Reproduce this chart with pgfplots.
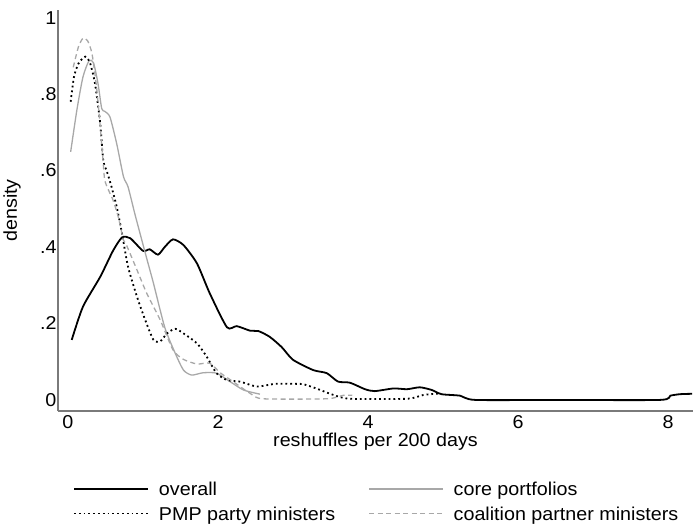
\documentclass[border=0pt]{standalone}
\usepackage{pgfplots}
\pgfplotsset{compat=1.18}
\usepackage{fontspec}
\setmainfont{Liberation Sans}[FakeStretch=1.06]
\definecolor{axisgray}{HTML}{7A7A7A}
\definecolor{lgray}{HTML}{A8A8A8}
\newcommand{\bigf}{\fontsize{18.6pt}{22pt}\selectfont}
\begin{document}
\begin{tikzpicture}[font=\bigf]
\useasboundingbox (-58pt,-117pt) rectangle (641pt,411pt);
\begin{axis}[
  scale only axis, width=635pt, height=401pt,
  xmin=-0.133, xmax=8.333, ymin=-0.029, ymax=1.02,
  font=\bigf,
  axis lines*=left,
  axis line style={draw=axisgray, line width=1.6pt, -},
  major tick length=0pt,
  xtick={0,2,4,6,8},
  ytick={0,0.2,0.4,0.6,0.8,1}, yticklabels={0,.2,.4,.6,.8,1},
  /pgf/number format/assume math mode=true,
  xticklabel style={font=\bigf, yshift=-2pt, inner sep=2pt},
  yticklabel style={font=\bigf, xshift=2pt},
  xlabel={reshuffles per 200 days},
  ylabel={density},
  every axis x label/.style={at={(axis description cs:0.5,-0.076)}, anchor=center, font=\bigf, inner sep=0pt},
  every axis y label/.style={at={(axis description cs:-0.0724,0.5)}, anchor=center, rotate=90, font=\bigf},
  legend columns=2, legend cell align=left,
  legend image code/.code={\draw[#1] (0pt,0pt) -- (74pt,0pt);},
  legend style={draw=none, fill=none, at={(axis description cs:0,0)}, anchor=north west,
    xshift=12pt, yshift=-69pt, row sep=11pt, font=\bigf,
    nodes={inner sep=0pt, text depth=0pt},
    /tikz/every odd column/.append style={column sep=10pt},
    /tikz/every even column/.append style={column sep=33pt}},
]
\addplot[black, line width=1.8pt, smooth, tension=0.4] coordinates {
(0.05,0.157)(0.2,0.244)(0.43,0.322)(0.6,0.39)(0.72,0.425)(0.83,0.423)
(1.0,0.39)(1.09,0.394)(1.2,0.38)(1.29,0.40)(1.4,0.42)(1.54,0.405)(1.72,0.357)(1.89,0.279)
(2.12,0.19)(2.25,0.193)(2.43,0.181)(2.54,0.18)(2.69,0.165)(2.85,0.138)(3.0,0.105)(3.27,0.078)
(3.45,0.07)(3.6,0.048)(3.76,0.045)(3.96,0.028)(4.09,0.023)(4.34,0.03)(4.52,0.028)(4.69,0.033)
(4.85,0.026)(4.98,0.015)(5.23,0.011)(5.43,0.0)(6.5,0)(7.89,0)(8.03,0.011)(8.16,0.015)(8.32,0.016)};
\addlegendentry{overall}
\addplot[lgray, line width=1.3pt, smooth, tension=0.4] coordinates {
(0.036,0.649)(0.12,0.76)(0.2,0.845)(0.28,0.887)(0.34,0.882)(0.40,0.828)(0.45,0.762)(0.49,0.755)
(0.56,0.74)(0.65,0.67)(0.74,0.584)(0.80,0.558)(0.89,0.488)(0.96,0.436)(1.05,0.37)(1.14,0.305)
(1.29,0.19)(1.43,0.122)(1.54,0.078)(1.65,0.065)(1.80,0.071)(1.98,0.07)(2.16,0.048)(2.34,0.026)(2.56,0.015)};
\addlegendentry{core portfolios}
\addplot[black, line width=1.8pt, dash pattern=on 1.8pt off 3pt, smooth, tension=0.4] coordinates {
(0.036,0.78)(0.08,0.845)(0.14,0.88)(0.23,0.898)(0.29,0.884)(0.36,0.828)(0.43,0.723)(0.47,0.627)
(0.52,0.597)(0.58,0.558)(0.65,0.505)(0.72,0.436)(0.80,0.349)(0.92,0.27)(1.03,0.209)(1.14,0.157)
(1.23,0.153)(1.32,0.174)(1.43,0.186)(1.54,0.174)(1.72,0.148)(1.85,0.113)(1.98,0.07)(2.12,0.052)
(2.29,0.048)(2.52,0.035)(2.76,0.042)(3.05,0.042)(3.14,0.041)(3.31,0.03)(3.54,0.013)(3.76,0.003)
(4.52,0.003)(4.74,0.013)(4.96,0.017)};
\addlegendentry{PMP party ministers}
\addplot[lgray, line width=1.3pt, dash pattern=on 5pt off 3.5pt, smooth, tension=0.4] coordinates {
(0.07,0.87)(0.14,0.924)(0.2,0.946)(0.26,0.94)(0.32,0.906)(0.38,0.82)(0.43,0.715)(0.47,0.619)
(0.49,0.575)(0.54,0.549)(0.6,0.523)(0.67,0.479)(0.74,0.418)(0.78,0.405)(0.92,0.34)(1.05,0.279)
(1.23,0.209)(1.4,0.131)(1.54,0.106)(1.72,0.094)(1.89,0.096)(2.03,0.071)(2.2,0.048)(2.43,0.017)
(2.6,0.003)(3.45,0.003)(3.67,0.012)(3.79,0.012)};
\addlegendentry{coalition partner ministers}
\end{axis}
\end{tikzpicture}
\end{document}
